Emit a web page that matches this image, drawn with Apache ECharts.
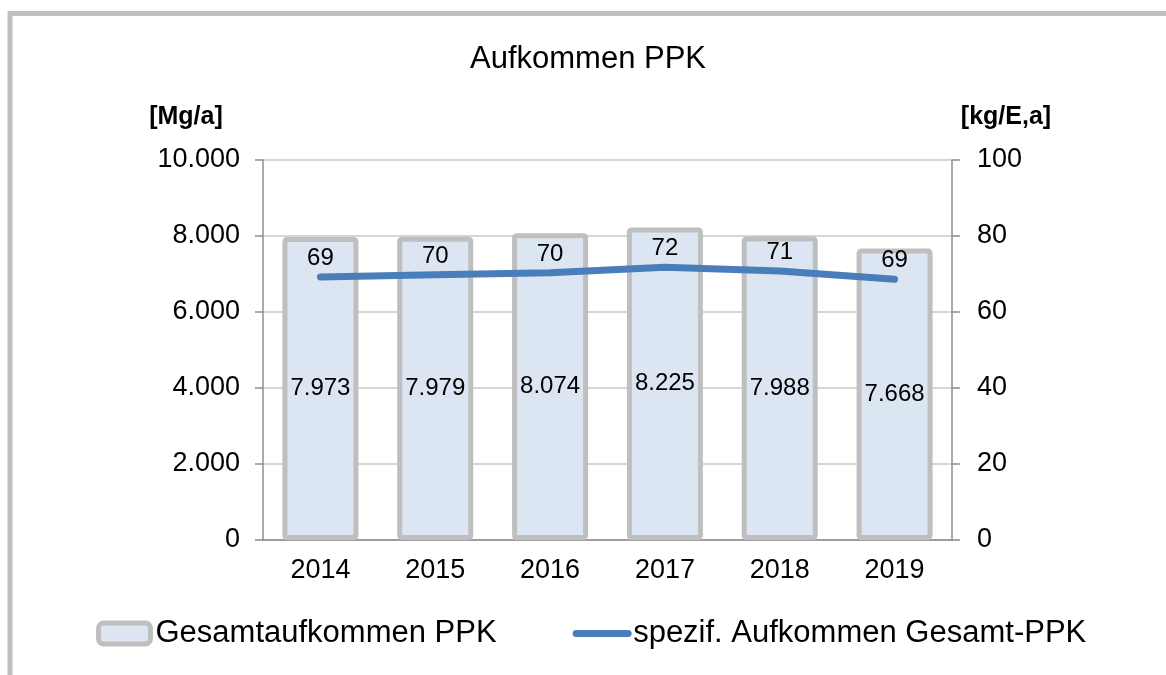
<!DOCTYPE html>
<html>
  <head>
    <meta charset="utf-8" />
    <title>Aufkommen PPK</title>
    <script src="https://cdn.jsdelivr.net/npm/echarts@6.0.0/dist/echarts.min.js"></script>
    <style>
      html, body { margin: 0; padding: 0; background: #fff; }
    </style>
  </head>
  <body>
    <div id="main" style="width: 1166px; height: 675px"></div>

    <script type="text/javascript">
      // Daten
      const jahre = ['2014', '2015', '2016', '2017', '2018', '2019']
      const gesamtPPK = [7973, 7979, 8074, 8225, 7988, 7668]
      const spezifPPK = [69.2, 69.8, 70.3, 71.8, 70.8, 68.6]
      const tickLinks = [0, 2000, 4000, 6000, 8000, 10000]
      const tickRechts = [0, 20, 40, 60, 80, 100]

      const font = 'Liberation Sans, Arial, sans-serif'

      // Tausenderpunkt wie im Original
      function tausender(v) {
        return String(Math.round(v)).replace(/\B(?=(\d{3})+(?!\d))/g, '.')
      }

      var myChart = echarts.init(document.getElementById('main'))

      option = {
        backgroundColor: '#fff',
        textStyle: { fontFamily: font, color: '#000' },
        graphic: [
          {
            type: 'rect',
            shape: { x: 10, y: 13.5, width: 1300, height: 800 },
            style: { fill: 'none', stroke: '#BFBFBF', lineWidth: 5 },
            silent: true,
          },
        ],
        title: {
          text: 'Aufkommen PPK',
          left: 465,
          top: 39,
          textStyle: { fontFamily: font, fontSize: 31, fontWeight: 'normal', color: '#000' },
        },
        legend: {
          left: 91,
          top: 613,
          itemWidth: 52,
          itemHeight: 21,
          itemGap: 76,
          textStyle: { fontFamily: font, fontSize: 31, color: '#000' },
          data: [
            {
              name: 'Gesamtaufkommen PPK',
              itemStyle: { color: '#DCE6F2', borderColor: '#BFBFBF', borderWidth: 5 },
            },
            {
              name: 'spezif. Aufkommen Gesamt-PPK',
              itemStyle: { opacity: 0 },
              lineStyle: { color: '#4A7EBB', width: 7, cap: 'round' },
            },
          ],
        },
        grid: { left: 263, right: 214, top: 160, bottom: 135 },
        xAxis: {
          type: 'category',
          data: jahre,
          axisLine: { lineStyle: { color: '#8C8C8C', width: 1.5 } },
          axisTick: { length: 8, lineStyle: { color: '#8C8C8C', width: 1.5 } },
          axisLabel: { fontFamily: font, fontSize: 27, color: '#000', margin: 17 },
        },
        yAxis: [
          {
            type: 'value',
            min: 0,
            max: 10000,
            interval: 2000,
            name: '[Mg/a]',
            nameLocation: 'end',
            nameGap: 30,
            nameTextStyle: {
              fontFamily: font,
              fontSize: 25,
              fontWeight: 'bold',
              color: '#000',
              align: 'center',
              padding: [0, 154, 0, 0],
            },
            axisLine: { show: true, lineStyle: { color: '#8C8C8C', width: 1.5 } },
            axisTick: { show: true, length: 8, lineStyle: { color: '#8C8C8C', width: 1.5 } },
            axisLabel: {
              fontFamily: font,
              fontSize: 27,
              color: '#000',
              margin: 23,
              formatter: function (v) {
                return tickLinks.indexOf(v) >= 0 ? tausender(v) : ''
              },
            },
            splitLine: { show: true, lineStyle: { color: '#C8C8C8', width: 1.5 } },
          },
          {
            type: 'value',
            min: 0,
            max: 100,
            interval: 20,
            name: '[kg/E,a]',
            nameLocation: 'end',
            nameGap: 30,
            nameTextStyle: {
              fontFamily: font,
              fontSize: 25,
              fontWeight: 'bold',
              color: '#000',
              align: 'center',
              padding: [0, 0, 0, 108],
            },
            axisLine: { show: true, lineStyle: { color: '#8C8C8C', width: 1.5 } },
            axisTick: { show: true, length: 8, lineStyle: { color: '#8C8C8C', width: 1.5 } },
            axisLabel: {
              fontFamily: font,
              fontSize: 27,
              color: '#000',
              margin: 25,
              formatter: function (v) {
                return tickRechts.indexOf(v) >= 0 ? String(v) : ''
              },
            },
            splitLine: { show: false },
          },
        ],
        series: [
          {
            name: 'Gesamtaufkommen PPK',
            type: 'bar',
            data: gesamtPPK,
            barWidth: 76,
            itemStyle: { color: '#DCE6F2', borderColor: '#BFBFBF', borderWidth: 5, borderRadius: 2 },
            label: {
              show: true,
              position: 'inside',
              fontFamily: font,
              fontSize: 24,
              color: '#000',
              formatter: function (p) {
                return tausender(p.value)
              },
            },
          },
          {
            name: 'spezif. Aufkommen Gesamt-PPK',
            type: 'line',
            yAxisIndex: 1,
            data: spezifPPK,
            symbol: 'circle',
            symbolSize: 1,
            showSymbol: true,
            itemStyle: { color: '#4A7EBB' },
            lineStyle: { color: '#4A7EBB', width: 7, cap: 'round' },
            label: {
              show: true,
              position: 'top',
              distance: 6,
              fontFamily: font,
              fontSize: 24,
              color: '#000',
              formatter: function (p) {
                return String(Math.round(p.value))
              },
            },
            z: 5,
          },
        ],
      }

      myChart.setOption(option)
    </script>
  </body>
</html>
